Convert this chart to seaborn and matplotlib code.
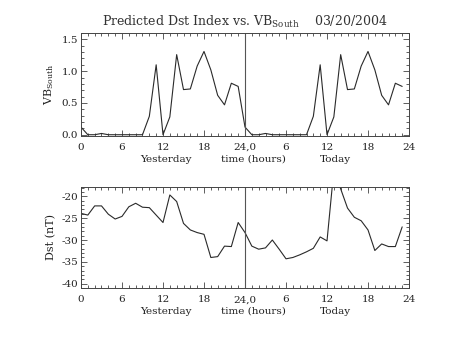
import numpy as np
import pandas as pd
import matplotlib
matplotlib.use("Agg")
import matplotlib.pyplot as plt
import seaborn as sns
from matplotlib.ticker import MultipleLocator, FixedLocator, FixedFormatter
from matplotlib.transforms import blended_transform_factory

# ---- data ----
hours = list(range(24))
vb_yesterday = [0.12, 0.0, 0.0, 0.02, 0.0, 0.0, 0.0, 0.0, 0.0, 0.0, 0.29, 1.10,
                0.0, 0.28, 1.26, 0.71, 0.72, 1.08, 1.31, 1.02, 0.62, 0.47, 0.81, 0.76]
vb_today = [0.12, 0.0, 0.0, 0.02, 0.0, 0.0, 0.0, 0.0, 0.0, 0.0, 0.29, 1.10,
            0.0, 0.28, 1.26, 0.71, 0.72, 1.08, 1.31, 1.02, 0.62, 0.47, 0.81, 0.76]
dst_yesterday = [-23.9, -24.3, -22.2, -22.2, -24.1, -25.2, -24.6, -22.4, -21.6, -22.5, -22.6, -24.3,
                 -26.0, -19.7, -21.2, -26.2, -27.7, -28.3, -28.7, -34.0, -33.8, -31.4, -31.5, -26.0]
dst_today = [-28.3, -31.4, -32.1, -31.8, -30.0, -32.1, -34.3, -34.0, -33.4, -32.7, -31.9, -29.3,
             -30.2, -14.0, -18.3, -22.7, -24.8, -25.6, -27.7, -32.4, -30.9, -31.5, -31.5, -27.0]
x_tick_vals = [0, 6, 12, 18, 24, 30, 36, 42, 48]
x_tick_labels = ["0", "6", "12", "18", "24,0", "6", "12", "18", "24"]
title_text = r"Predicted Dst Index vs. VB$_{\mathrm{South}}$    03/20/2004"

df = pd.DataFrame({
    "t": hours + [h + 24 for h in hours],
    "vb": vb_yesterday + vb_today,
    "dst": dst_yesterday + dst_today,
})

sns.set_style("ticks")
plt.rcParams["font.family"] = ["DejaVu Serif"]
plt.rcParams["mathtext.fontset"] = "dejavuserif"
plt.rcParams["axes.unicode_minus"] = False

fig = plt.figure(figsize=(4.53, 3.4), dpi=100)
ax1 = fig.add_axes([0.1788, 0.600, 0.7241, 0.3029])
ax2 = fig.add_axes([0.1788, 0.152, 0.7241, 0.2990])

lc = "#2a2a2a"
fs = 7.5

for ax, col, ylim, ymaj, ymin, yfmt, ylab in [
    (ax1, "vb", (-0.02, 1.6), 0.5, 0.1, "{:.1f}", r"VB$_{\mathrm{South}}$"),
    (ax2, "dst", (-41.05, -17.8), 5, 1, "{:.0f}", "Dst (nT)"),
]:
    sns.lineplot(data=df, x="t", y=col, ax=ax, color=lc, linewidth=0.8)
    ax.axvline(24, color="#555555", linewidth=0.8)
    ax.set_xlim(0, 48)
    ax.set_ylim(*ylim)
    ax.xaxis.set_major_locator(FixedLocator(x_tick_vals))
    ax.xaxis.set_major_formatter(FixedFormatter(x_tick_labels))
    ax.xaxis.set_minor_locator(MultipleLocator(1))
    ax.yaxis.set_major_locator(MultipleLocator(ymaj))
    ax.yaxis.set_minor_locator(MultipleLocator(ymin))
    ax.yaxis.set_major_formatter(plt.FuncFormatter(lambda v, p, f=yfmt: f.format(v)))
    ax.tick_params(which="both", direction="in", top=True, right=True,
                   color="#444444", width=0.6, labelsize=fs, labelcolor="#222222")
    ax.tick_params(which="major", length=4.5)
    ax.tick_params(which="minor", length=2.2)
    ax.tick_params(axis="x", pad=5)
    ax.tick_params(axis="y", pad=2)
    for s in ax.spines.values():
        s.set_color("#444444")
        s.set_linewidth(0.7)
    ax.set_xlabel("")
    ax.set_ylabel(ylab, fontsize=8, color="#222222", labelpad=4)
    tr = blended_transform_factory(ax.transData, ax.transAxes)
    for xx, txt in [(12.4, "Yesterday"), (25.2, "time (hours)"), (37.2, "Today")]:
        ax.text(xx, -0.18, txt, transform=tr, ha="center", va="top",
                fontsize=fs, color="#222222")

ax1.set_title(title_text, fontsize=9, color="#333333", pad=5)

fig.savefig("out.png", dpi=100)
